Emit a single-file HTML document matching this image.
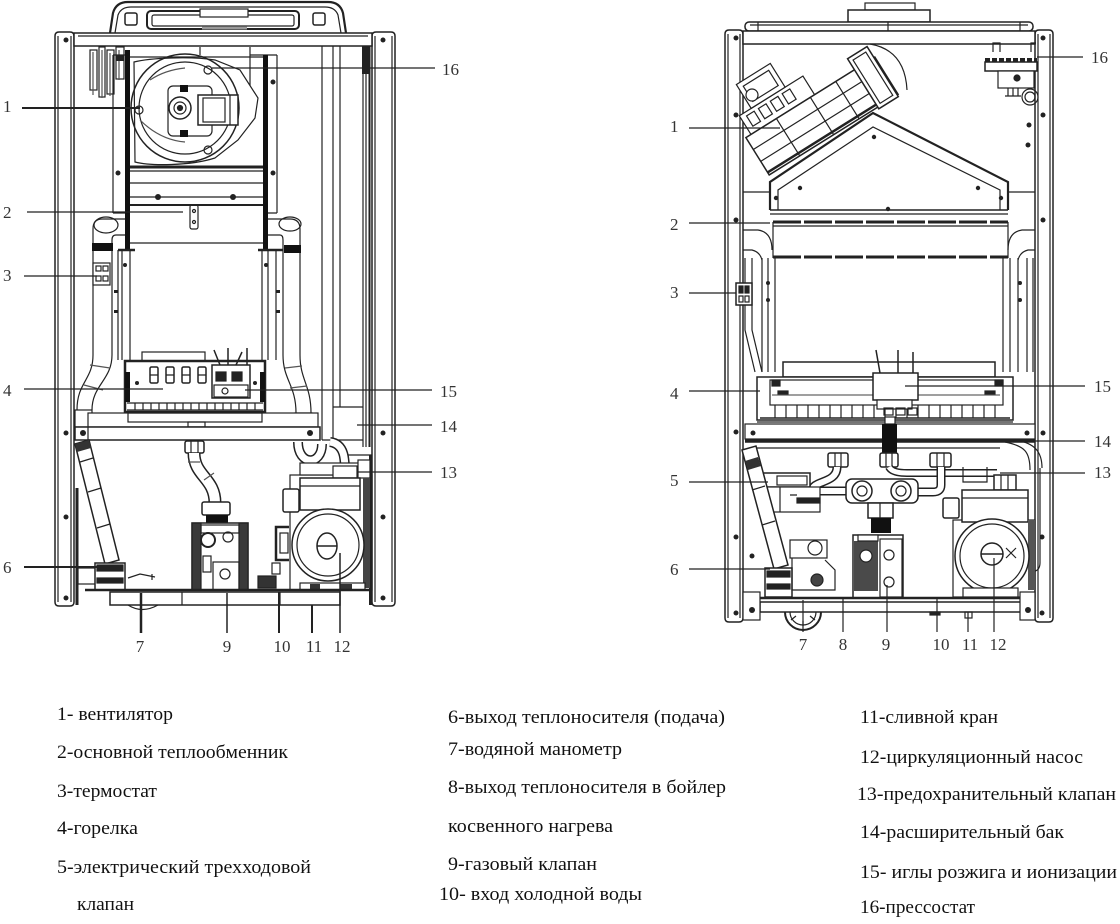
<!DOCTYPE html>
<html><head><meta charset="utf-8"><style>
html,body{margin:0;padding:0;background:#fff;}
svg{display:block;}
</style></head><body>
<svg width="1120" height="924" viewBox="0 0 1120 924" xmlns="http://www.w3.org/2000/svg">
<rect width="1120" height="924" fill="#fff"/>

<!-- ================= LEFT DIAGRAM ================= -->
<g fill="none" stroke="#222" stroke-width="1.2">
  <!-- side panels -->
  <path d="M55,36 Q55,32 59,32 H70 Q74,32 74,36 V602 Q74,606 70,606 H59 Q55,606 55,602 Z" stroke-width="1.5"/>
  <path d="M58,36 V602 M71,36 V602"/>
  <path d="M372,36 Q372,32 376,32 H391 Q395,32 395,36 V602 Q395,606 391,606 H376 Q372,606 372,602 Z" stroke-width="1.5"/>
  <path d="M375,36 V602 M392,36 V602"/>

  <!-- top hood -->
  <path d="M110,33 L113,13 Q116,2 128,2 H328 Q340,2 343,13 L346,33" stroke-width="2.2"/>
  <path d="M115,33 L118,15 Q121,7 131,7 H325 Q335,7 338,15 L341,33"/>
  <rect x="125" y="13" width="12" height="12" rx="2" stroke-width="1.5"/>
  <rect x="313" y="13" width="12" height="12" rx="2" stroke-width="1.5"/>
  <rect x="147" y="11" width="152" height="18" rx="4" stroke-width="2"/>
  <rect x="152" y="15" width="142" height="11" rx="2"/>
  <rect x="200" y="9" width="48" height="8" fill="#fff"/>
  <line x1="202" y1="28" x2="247" y2="28" stroke="#999" stroke-width="3"/>

  <!-- top bar -->
  <rect x="74" y="33" width="298" height="13" stroke-width="1.5" fill="#fff"/>
  <line x1="78" y1="36" x2="368" y2="36"/>

  <!-- expansion tank region right -->
  <path d="M322,46 V440 M333,46 V440 M340,46 V407 M363,46 V447 M366,46 V447"/>
  <line x1="369.5" y1="46" x2="369.5" y2="447" stroke-width="2"/>
  <rect x="362" y="46" width="8" height="28" fill="#222" stroke="none"/>
  <path d="M333,407 H363 M322,440 H363"/>

  <!-- pressostat (16) left top -->
  <rect x="90" y="50" width="7" height="40"/>
  <rect x="99" y="47" width="6" height="50"/>
  <rect x="107" y="50" width="7" height="44"/>
  <rect x="116" y="47" width="8" height="32"/>
  <path d="M93,52 V95 M102,50 V98 M110,53 V96 M119,50 V80" stroke="#555"/>
  <rect x="116" y="55" width="8" height="6" fill="#222" stroke="none"/>

  <!-- inner panels -->
  <path d="M113,55 V213 M113,55 H125 M277,55 V213 M250,55 H277 M250,47 V112 M238,112 H250 M113,213 H125 M268,213 H277 M200,47 V55"/>
  <rect x="125" y="50" width="5" height="200" fill="#111" stroke="none"/>
  <rect x="263" y="55" width="5" height="195" fill="#111" stroke="none"/>
  <line x1="130" y1="57" x2="263" y2="57"/>

  <!-- fan -->
  <path d="M134,62 C150,58 190,56 215,60 L240,70 L258,98 L255,118 L238,140 L215,158 C190,166 150,166 135,162 Z" fill="#fff"/>
  <circle cx="185" cy="108" r="54" stroke-width="1.5"/>
  <circle cx="185" cy="108" r="46"/>
  <path d="M140,120 Q160,140 185,142 M150,80 Q165,70 185,68" stroke="#555"/>
  <rect x="168" y="86" width="44" height="50" rx="5" fill="#fff"/>
  <rect x="198" y="95" width="40" height="30" fill="#fff" stroke-width="1.5"/>
  <rect x="203" y="98" width="22" height="24"/>
  <line x1="230" y1="95" x2="230" y2="125"/>
  <circle cx="180" cy="108" r="11" fill="#fff" stroke-width="1.5"/>
  <circle cx="180" cy="108" r="6"/>
  <circle cx="180" cy="108" r="2.5" fill="#222"/>
  <rect x="180" y="85" width="8" height="7" fill="#111" stroke="none"/>
  <rect x="180" y="130" width="8" height="7" fill="#111" stroke="none"/>
  <circle cx="208" cy="70" r="4"/>
  <circle cx="208" cy="150" r="4"/>
  <circle cx="139" cy="110" r="4"/>

  <!-- below fan, heat exchanger -->
  <line x1="130" y1="167" x2="263" y2="167" stroke-width="3"/>
  <path d="M130,171 H263 M130,183 H263 M130,197 H263 M130,243 H263"/>
  <line x1="130" y1="205" x2="263" y2="205" stroke-width="2"/>
  <path d="M118,250 H135 M258,250 H283" stroke-width="2.5"/>
  <rect x="190" y="205" width="8" height="24" rx="2"/>
  <circle cx="194" cy="211" r="1.5"/>
  <circle cx="194" cy="222" r="1.5"/>

  <!-- upper pipes -->
  <ellipse cx="106" cy="225" rx="12" ry="8" fill="#fff"/>
  <path d="M125,219 H102 Q93,219 93,229 V355 M125,235 H116 Q112,235 112,240 V355"/>
  <rect x="92" y="243" width="21" height="8" fill="#111" stroke="none"/>
  <rect x="93" y="263" width="17" height="22" fill="#fff"/>
  <rect x="96" y="266" width="5" height="5"/><rect x="103" y="266" width="5" height="5"/>
  <rect x="96" y="276" width="5" height="5"/><rect x="103" y="276" width="5" height="5"/>
  <ellipse cx="290" cy="224" rx="11" ry="7" fill="#fff"/>
  <path d="M268,219 H290 Q300,219 300,229 V355 M268,235 H280 Q283,235 283,240 V355"/>
  <rect x="284" y="245" width="17" height="8" fill="#111" stroke="none"/>

  <!-- columns -->
  <path d="M118,250 V360 M122,250 V360 M130,250 V360 M262,250 V360 M268,250 V360 M276,250 V360"/>
  <rect x="114" y="290" width="4" height="3" fill="#222" stroke="none"/>
  <rect x="114" y="310" width="4" height="3" fill="#222" stroke="none"/>
  <rect x="276" y="290" width="4" height="3" fill="#222" stroke="none"/>
  <rect x="276" y="310" width="4" height="3" fill="#222" stroke="none"/>

  <!-- lower pipes -->
  <path d="M93,355 C93,380 77,382 77,410 M112,355 C112,380 92,385 92,410"/>
  <path d="M90,365 L110,368 M84,385 L103,390" stroke="#555"/>
  <path d="M283,355 C283,380 296,385 296,413 M300,355 C300,380 311,385 311,413"/>
  <path d="M285,368 L302,366 M290,388 L307,386" stroke="#555"/>
  <rect x="75" y="410" width="17" height="17" fill="#fff"/>
  <rect x="295" y="413" width="17" height="14" fill="#fff"/>

  <!-- burner -->
  <rect x="142" y="352" width="63" height="10" fill="#fff"/>
  <rect x="125" y="361" width="140" height="51" stroke-width="2.5" fill="#fff"/>
  <path d="M127,403 H263 M127,410 H263"/>
  <path d="M135,403V410M143,403V410M151,403V410M159,403V410M167,403V410M175,403V410M183,403V410M191,403V410M199,403V410M207,403V410M215,403V410M223,403V410M231,403V410M239,403V410M247,403V410M255,403V410"/>
  <rect x="150" y="367" width="8" height="16" rx="1.5" stroke-width="1.5"/>
  <rect x="166" y="367" width="8" height="16" rx="1.5" stroke-width="1.5"/>
  <rect x="182" y="367" width="8" height="16" rx="1.5" stroke-width="1.5"/>
  <rect x="198" y="367" width="8" height="16" rx="1.5" stroke-width="1.5"/>
  <path d="M150,375 H158 M166,375 H174 M182,375 H190 M198,375 H206"/>
  <rect x="212" y="365" width="38" height="33" fill="#fff" stroke-width="1.5"/>
  <rect x="216" y="372" width="10" height="9" fill="#222"/>
  <rect x="232" y="372" width="10" height="9" fill="#222"/>
  <rect x="214" y="385" width="34" height="12"/>
  <circle cx="225" cy="391" r="3"/>
  <path d="M220,365 L214,350 M228,365 V348 M247,365 V348 M236,365 L242,352" stroke-width="1.5"/>
  <rect x="125" y="372" width="5" height="30" fill="#111" stroke="none"/>
  <rect x="260" y="372" width="5" height="30" fill="#111" stroke="none"/>

  <!-- under burner & crossbar -->
  <rect x="88" y="413" width="230" height="14" fill="#fff"/>
  <rect x="128" y="413" width="134" height="9"/>
  <rect x="188" y="422" width="17" height="5"/>
  <rect x="75" y="427" width="245" height="13" stroke-width="1.5" fill="#fff"/>
  <line x1="88" y1="427" x2="88" y2="440"/>

  <!-- lower compartment walls -->
  <line x1="77" y1="488" x2="77" y2="605" stroke-width="3"/>
  <line x1="370.5" y1="455" x2="370.5" y2="605" stroke-width="3"/>
  <line x1="345" y1="455" x2="372" y2="455"/>

  <!-- diagonal pipe -->
  <polygon points="75,444 89,440 119,560 105,564" fill="#fff" stroke-width="1.5"/>
  <polygon points="75,444 89,440 91,448 77,452" fill="#333" stroke="none"/>
  <path d="M80,462 L93,458 M88,492 L101,488 M97,528 L110,524"/>
  <rect x="78" y="568" width="18" height="16" fill="#fff"/>
  <rect x="95" y="563" width="30" height="27" fill="#fff" stroke-width="1.5"/>
  <rect x="97" y="565" width="26" height="6" fill="#222"/>
  <rect x="97" y="578" width="26" height="5" fill="#222"/>
  <path d="M128,578 L140,574 L155,577 M152,574 V580"/>

  <!-- gas pipe and valve -->
  <rect x="185" y="441" width="19" height="12" rx="2" fill="#fff" stroke-width="1.5"/>
  <path d="M191,441 V453 M198,441 V453"/>
  <path d="M194,453 C194,476 215,478 215,503" stroke="#222" stroke-width="13"/>
  <path d="M194,453 C194,476 215,478 215,503" stroke="#fff" stroke-width="10"/>
  <path d="M188,462 L200,462 M204,480 L214,473" stroke="#555"/>
  <rect x="202" y="502" width="28" height="13" rx="2" fill="#fff" stroke-width="1.5"/>
  <rect x="206" y="515" width="22" height="8" fill="#111" stroke="none"/>
  <rect x="192" y="523" width="56" height="67" fill="#fff" stroke-width="1.5"/>
  <rect x="192" y="523" width="9" height="67" fill="#3a3a3a"/>
  <rect x="239" y="523" width="9" height="67" fill="#3a3a3a"/>
  <rect x="201" y="525" width="38" height="8"/>
  <circle cx="208" cy="540" r="7" stroke-width="2"/>
  <circle cx="228" cy="537" r="5"/>
  <rect x="203" y="556" width="8" height="16"/>
  <rect x="213" y="562" width="26" height="28"/>
  <circle cx="225" cy="574" r="5"/>

  <!-- item 10 -->
  <path d="M289,527 H276 V560 H289" stroke-width="2.5"/>
  <rect x="280" y="533" width="8" height="20"/>
  <rect x="258" y="576" width="18" height="12" fill="#333"/>
  <rect x="272" y="563" width="8" height="11"/>

  <!-- pump -->
  <rect x="290" y="475" width="82" height="115"/>
  <path d="M298,442 C298,466 322,466 322,444" stroke="#222" stroke-width="10"/>
  <path d="M298,442 C298,466 322,466 322,444" stroke="#fff" stroke-width="7"/>
  <path d="M330,442 C346,444 345,462 345,476" stroke="#222" stroke-width="10"/>
  <path d="M330,442 C346,444 345,462 345,476" stroke="#fff" stroke-width="7"/>
  <rect x="300" y="463" width="70" height="12" fill="#fff"/>
  <rect x="333" y="466" width="24" height="12" fill="#fff"/>
  <rect x="358" y="460" width="12" height="18" fill="#fff"/>
  <rect x="300" y="478" width="60" height="32" fill="#fff" stroke-width="1.5"/>
  <line x1="300" y1="486" x2="360" y2="486"/>
  <rect x="283" y="489" width="16" height="23" rx="2" fill="#fff" stroke-width="1.5"/>
  <rect x="363" y="478" width="7" height="110" fill="#444" stroke="none"/>
  <circle cx="328" cy="545" r="36" fill="#fff" stroke-width="1.5"/>
  <circle cx="328" cy="545" r="31"/>
  <ellipse cx="327" cy="546" rx="10" ry="13" stroke-width="1.5"/>
  <line x1="317" y1="546" x2="337" y2="546" stroke-width="1.5"/>
  <rect x="300" y="583" width="65" height="7" fill="#fff"/>
  <rect x="310" y="584" width="10" height="5" fill="#333" stroke="none"/>
  <rect x="340" y="584" width="12" height="5" fill="#333" stroke="none"/>

  <!-- bottom -->
  <line x1="85" y1="590" x2="372" y2="590" stroke-width="2.5"/>
  <rect x="110" y="592" width="230" height="13" fill="#fff" stroke-width="1.5"/>
  <path d="M182,592 V605 M280,592 V605"/>
  <path d="M128,605 Q142,614 158,605"/>
</g>
<g fill="#222">
  <circle cx="66" cy="40" r="2.5"/><circle cx="383" cy="40" r="2.5"/>
  <circle cx="66" cy="433" r="2.5"/><circle cx="383" cy="433" r="2.5"/>
  <circle cx="66" cy="517" r="2.5"/><circle cx="383" cy="517" r="2.5"/>
  <circle cx="66" cy="598" r="2.5"/><circle cx="383" cy="598" r="2.5"/>
  <circle cx="83" cy="433" r="3"/><circle cx="310" cy="433" r="3"/>
  <circle cx="158" cy="197" r="3"/><circle cx="233" cy="197" r="3"/>
  <circle cx="118" cy="173" r="2.5"/><circle cx="273" cy="173" r="2.5"/>
  <circle cx="273" cy="82" r="2.5"/>
  <circle cx="125" cy="265" r="2"/><circle cx="266" cy="265" r="2"/>
  <circle cx="137" cy="383" r="2"/><circle cx="255" cy="383" r="2"/>
</g>

<!-- left labels -->
<g stroke="#222" fill="none">
  <line x1="22" y1="108" x2="140" y2="108" stroke-width="2"/>
  <line x1="27" y1="212" x2="183" y2="212" stroke-width="1.2"/>
  <line x1="24" y1="276" x2="97" y2="276" stroke-width="1.2"/>
  <line x1="24" y1="389" x2="163" y2="389" stroke-width="1.2"/>
  <line x1="24" y1="567" x2="98" y2="567" stroke-width="2"/>
  <line x1="212" y1="68" x2="435" y2="68" stroke-width="1.2"/>
  <line x1="245" y1="390" x2="432" y2="390" stroke-width="1.2"/>
  <line x1="357" y1="425" x2="432" y2="425" stroke-width="1.2"/>
  <line x1="357" y1="472" x2="432" y2="472" stroke-width="1.2"/>
  <line x1="141" y1="593" x2="141" y2="633" stroke-width="2.5"/>
  <line x1="227" y1="593" x2="227" y2="633" stroke-width="1.5"/>
  <line x1="279" y1="592" x2="279" y2="633" stroke-width="2"/>
  <line x1="312" y1="605" x2="312" y2="633" stroke-width="2"/>
  <line x1="340" y1="553" x2="340" y2="633" stroke-width="1.5"/>
</g>
<g font-family="Liberation Serif, serif" font-size="17" fill="#333">
  <text x="3" y="112">1</text>
  <text x="3" y="218">2</text>
  <text x="3" y="281">3</text>
  <text x="3" y="396">4</text>
  <text x="3" y="573">6</text>
  <text x="442" y="75">16</text>
  <text x="440" y="397">15</text>
  <text x="440" y="432">14</text>
  <text x="440" y="478">13</text>
  <text x="140" y="652" text-anchor="middle">7</text>
  <text x="227" y="652" text-anchor="middle">9</text>
  <text x="282" y="652" text-anchor="middle">10</text>
  <text x="314" y="652" text-anchor="middle">11</text>
  <text x="342" y="652" text-anchor="middle">12</text>
</g>

<!-- ================= RIGHT DIAGRAM ================= -->
<g fill="none" stroke="#222" stroke-width="1.2">
  <!-- panels -->
  <path d="M725,34 Q725,30 729,30 H739 Q743,30 743,34 V618 Q743,622 739,622 H729 Q725,622 725,618 Z" stroke-width="1.5"/>
  <path d="M728,34 V618 M740,34 V618"/>
  <path d="M1035,34 Q1035,30 1039,30 H1049 Q1053,30 1053,34 V618 Q1053,622 1049,622 H1039 Q1035,622 1035,618 Z" stroke-width="1.5"/>
  <path d="M1038,34 V618 M1050,34 V618"/>

  <!-- top -->
  <rect x="865" y="3" width="50" height="7"/>
  <rect x="848" y="10" width="82" height="12" stroke-width="1.5" fill="#fff"/>
  <rect x="745" y="22" width="288" height="9" rx="4" stroke-width="1.5" fill="#fff"/>
  <path d="M750,25 H1028 M888,22 V31 M758,22 V31 M1020,22 V31"/>
  <rect x="743" y="31" width="292" height="13" stroke-width="1.5" fill="#fff"/>

  <!-- pressostat 16 -->
  <path d="M993,52 V43 H1000 V52 M1031,52 V43 H1036"/>
  <line x1="985" y1="60" x2="1037" y2="60" stroke-width="4" stroke-dasharray="5 2"/>
  <rect x="985" y="62" width="52" height="9" fill="#fff" stroke-width="1.5"/>
  <rect x="998" y="71" width="36" height="17" fill="#fff"/>
  <circle cx="1017" cy="78" r="3" fill="#222"/>
  <path d="M1008,88 V96 M1013,88 V96 M1018,88 V96 M1005,96 H1021"/>
  <circle cx="1030" cy="97" r="8"/>
  <circle cx="1030" cy="97" r="5"/>

  <!-- fan arc -->
  <path d="M870,44 Q905,50 907,90"/>

  <!-- hood -->
  <path d="M770,210 V182 L873,113 L1008,182 V210" stroke-width="2.2" fill="#fff"/>
  <path d="M778,210 V190 L873,127 L1000,190 V210"/>
  <path d="M770,210 H1008" stroke-width="1.5"/>
  <path d="M770,214 H1008"/>
  <path d="M743,192 H770 M1008,192 H1035"/>

  <!-- fan assembly (rotated) -->
  <g transform="translate(822,116) rotate(-32)">
    <rect x="-70" y="-44" width="75" height="22" fill="#fff"/>
    <rect x="-64" y="-40" width="9" height="12"/>
    <rect x="-50" y="-40" width="9" height="12"/>
    <rect x="-36" y="-40" width="9" height="12"/>
    <rect x="-22" y="-40" width="9" height="12"/>
    <rect x="-56" y="-72" width="40" height="28" fill="#fff"/>
    <rect x="-51" y="-67" width="30" height="18"/>
    <rect x="-76" y="-22" width="152" height="44" fill="#fff" stroke-width="1.5"/>
    <path d="M-76,-8 H52 M-76,6 H52 M-40,-22 V22 M0,-22 V22 M30,-22 V22"/>
    <line x1="-76" y1="19" x2="76" y2="19" stroke-width="2.5"/>
    <rect x="52" y="-35" width="23" height="59" fill="#fff" stroke-width="1.5"/>
    <rect x="56" y="-31" width="15" height="51"/>
  </g>
  <circle cx="752" cy="95" r="6" fill="#fff"/>

  <!-- heat exchanger -->
  <line x1="773" y1="222" x2="1008" y2="222" stroke-width="3" stroke-dasharray="28 3"/>
  <path d="M773,226 H1008 M773,222 V258 M1008,222 V258"/>
  <line x1="773" y1="257" x2="1008" y2="257" stroke-width="3" stroke-dasharray="28 3"/>
  <path d="M743,230 H758 Q772,232 772,250 M743,250 H752 Q760,252 762,260"/>
  <path d="M1035,230 H1022 Q1008,232 1008,250 M1035,250 H1028 Q1020,252 1018,260"/>

  <!-- columns / pipes -->
  <path d="M745,258 V330 L755,372 M752,258 V330 L762,372"/>
  <path d="M762,258 V372 M768,258 V372 M775,258 V372"/>
  <path d="M1003,258 V372 M1010,258 V372 M1018,258 V372"/>
  <path d="M1027,258 V372 M1033,258 V372"/>
  <rect x="736" y="283" width="16" height="22" fill="#fff" stroke-width="1.5"/>
  <rect x="739" y="286" width="4" height="7" fill="#222"/><rect x="745" y="286" width="4" height="7" fill="#222"/>
  <rect x="739" y="296" width="4" height="6"/><rect x="745" y="296" width="4" height="6"/>

  <!-- burner -->
  <rect x="783" y="362" width="212" height="15" stroke-width="1.5" fill="#fff"/>
  <rect x="757" y="377" width="256" height="43" stroke-width="1.5" fill="#fff"/>
  <rect x="770" y="380" width="233" height="25"/>
  <line x1="772" y1="395" x2="1000" y2="395" stroke="#666"/>
  <path d="M775,405V418M786,405V418M797,405V418M808,405V418M819,405V418M830,405V418M841,405V418M852,405V418M863,405V418M874,405V418M885,405V418M896,405V418M907,405V418M918,405V418M929,405V418M940,405V418M951,405V418M962,405V418M973,405V418M984,405V418M995,405V418"/>
  <line x1="760" y1="418" x2="1010" y2="418" stroke-width="1.5"/>
  <rect x="873" y="373" width="45" height="27" fill="#fff" stroke-width="1.5"/>
  <rect x="877" y="400" width="35" height="9" fill="#fff"/>
  <path d="M880,373 L876,350 M898,373 V350 M913,373 V352" stroke-width="1.5"/>
  <rect x="884" y="408" width="9" height="7"/><rect x="896" y="408" width="9" height="7"/><rect x="908" y="408" width="9" height="7"/>
  <rect x="772" y="380" width="8" height="6" fill="#222"/>
  <rect x="995" y="380" width="8" height="6" fill="#222"/>
  <rect x="778" y="391" width="10" height="3" fill="#222"/>
  <rect x="985" y="391" width="10" height="3" fill="#222"/>

  <!-- crossbar -->
  <line x1="757" y1="422" x2="1013" y2="422"/>
  <rect x="745" y="424" width="290" height="15" stroke-width="1.2" fill="#fff"/>
  <line x1="745" y1="441" x2="1035" y2="441" stroke-width="3.5"/>
  <line x1="752" y1="448" x2="1000" y2="448"/>
  <rect x="885" y="417" width="10" height="7" fill="#fff"/>
  <rect x="882" y="424" width="15" height="34" fill="#111" stroke="none"/>

  <!-- nuts -->
  <rect x="828" y="453" width="20" height="14" rx="2" fill="#fff" stroke-width="1.5"/>
  <rect x="880" y="453" width="18" height="14" rx="2" fill="#fff" stroke-width="1.5"/>
  <rect x="930" y="453" width="21" height="14" rx="2" fill="#fff" stroke-width="1.5"/>
  <path d="M835,453 V467 M841,453 V467 M886,453 V467 M892,453 V467 M937,453 V467 M944,453 V467"/>

  <!-- pipes -->
  <path d="M837,467 C837,484 812,480 812,491 L850,491" stroke="#222" stroke-width="9"/>
  <path d="M837,467 C837,484 812,480 812,491 L850,491" stroke="#fff" stroke-width="6"/>
  <path d="M889,467 Q892,473 907,473 L997,473" stroke="#222" stroke-width="8"/>
  <path d="M889,467 Q892,473 907,473 L997,473" stroke="#fff" stroke-width="5"/>
  <path d="M941,467 V485 Q941,492 933,492 L911,492" stroke="#222" stroke-width="9"/>
  <path d="M941,467 V485 Q941,492 933,492 L911,492" stroke="#fff" stroke-width="6"/>
  <rect x="846" y="479" width="72" height="24" rx="6" fill="#fff" stroke-width="1.5"/>
  <circle cx="862" cy="491" r="10" fill="#fff" stroke-width="1.5"/>
  <circle cx="862" cy="491" r="5"/>
  <circle cx="901" cy="491" r="10" fill="#fff" stroke-width="1.5"/>
  <circle cx="901" cy="491" r="5"/>
  <rect x="868" y="503" width="25" height="15" fill="#fff" stroke-width="1.5"/>
  <line x1="880" y1="503" x2="880" y2="518"/>
  <rect x="871" y="518" width="20" height="15" fill="#111" stroke="none"/>
  <path d="M963,467 V482 H987 V467" />

  <!-- diverter valve 5 -->
  <rect x="763" y="473" width="47" height="14" fill="#fff" stroke-width="1.5"/>
  <rect x="777" y="476" width="30" height="9"/>
  <rect x="767" y="487" width="53" height="25" fill="#fff"/>
  <rect x="797" y="498" width="23" height="5" fill="#222"/>
  <path d="M780,487 V512 M790,495 H797"/>

  <!-- diagonal pipe -->
  <polygon points="742,450 756,446 788,565 774,569" fill="#fff" stroke-width="1.5"/>
  <polygon points="745,461 758,457 761,466 748,470" fill="#333" stroke="none"/>
  <path d="M752,490 L765,486 M762,525 L775,521"/>
  <rect x="765" y="568" width="27" height="29" fill="#fff" stroke-width="1.5"/>
  <rect x="767" y="571" width="23" height="6" fill="#222"/>
  <rect x="767" y="584" width="23" height="5" fill="#222"/>

  <!-- block 8 -->
  <rect x="790" y="540" width="37" height="18" fill="#fff"/>
  <circle cx="815" cy="548" r="7"/>
  <path d="M792,558 V590 H835 V570 L825,560"/>
  <circle cx="817" cy="580" r="6" fill="#444"/>

  <!-- gas valve -->
  <rect x="853" y="535" width="50" height="63" fill="#fff" stroke-width="1.5"/>
  <rect x="854" y="541" width="24" height="50" fill="#4a4a4a" stroke="none"/>
  <circle cx="866" cy="556" r="6" fill="#fff"/>
  <rect x="880" y="539" width="22" height="58"/>
  <circle cx="889" cy="555" r="5"/>
  <circle cx="889" cy="582" r="5"/>
  <rect x="858" y="535" width="20" height="6" fill="#fff"/>

  <!-- pump -->
  <path d="M1005,442 C1025,446 1030,452 1030,470 M1015,440 C1035,443 1042,452 1042,468"/>
  <path d="M1040,468 V563 Q1040,572 1030,572"/>
  <rect x="953" y="520" width="82" height="77"/>
  <rect x="994" y="475" width="22" height="15" fill="#fff" stroke-width="1.5"/>
  <path d="M1001,475 V490 M1008,475 V490"/>
  <rect x="962" y="490" width="66" height="32" fill="#fff" stroke-width="1.5"/>
  <line x1="962" y1="498" x2="1028" y2="498"/>
  <rect x="943" y="498" width="16" height="20" rx="2" fill="#fff" stroke-width="1.5"/>
  <rect x="1028" y="520" width="7" height="70" fill="#555" stroke="none"/>
  <circle cx="992" cy="556" r="37" fill="#fff" stroke-width="1.5"/>
  <circle cx="992" cy="556" r="32"/>
  <circle cx="992" cy="554" r="11" stroke-width="1.5"/>
  <line x1="981" y1="554" x2="1003" y2="554" stroke-width="1.5"/>
  <path d="M1006,548 L1016,558 M1016,548 L1006,558"/>
  <rect x="963" y="588" width="55" height="9" fill="#fff"/>

  <!-- bottom -->
  <line x1="745" y1="598" x2="1035" y2="598" stroke-width="2.5"/>
  <rect x="760" y="602" width="268" height="10" fill="#fff" stroke-width="1.5"/>
  <rect x="743" y="592" width="17" height="28" fill="#fff"/>
  <rect x="1020" y="592" width="15" height="28" fill="#fff"/>
  <path d="M785,612 A18,18 0 0 0 821,612" stroke-width="2"/>
  <path d="M790,612 A13,13 0 0 0 816,612"/>
  <path d="M791,620 L796,616 M815,620 L810,616 M803,626 V621"/>
  <rect x="965" y="612" width="7" height="6"/>
  <rect x="930" y="612" width="10" height="3" fill="#222"/>
</g>
<g fill="#222">
  <circle cx="736" cy="38" r="2.5"/><circle cx="1043" cy="38" r="2.5"/>
  <circle cx="736" cy="115" r="2.5"/><circle cx="1043" cy="115" r="2.5"/>
  <circle cx="736" cy="220" r="2.5"/><circle cx="1043" cy="220" r="2.5"/>
  <circle cx="736" cy="432" r="2.5"/><circle cx="1043" cy="433" r="2.5"/>
  <circle cx="736" cy="537" r="2.5"/><circle cx="1042" cy="537" r="2.5"/>
  <circle cx="736" cy="613" r="2.5"/><circle cx="1042" cy="613" r="2.5"/>
  <circle cx="752" cy="610" r="3"/><circle cx="1028" cy="610" r="3"/>
  <circle cx="753" cy="433" r="2.5"/><circle cx="1027" cy="433" r="2.5"/>
  <circle cx="1029" cy="125" r="2.5"/><circle cx="1028" cy="145" r="2.5"/>
  <circle cx="800" cy="188" r="2.2"/><circle cx="874" cy="137" r="2.2"/>
  <circle cx="978" cy="188" r="2.2"/><circle cx="776" cy="198" r="2.2"/>
  <circle cx="1001" cy="198" r="2.2"/><circle cx="888" cy="209" r="2.2"/>
  <circle cx="768" cy="283" r="2"/><circle cx="768" cy="300" r="2"/>
  <circle cx="1020" cy="283" r="2"/><circle cx="1020" cy="300" r="2"/>
  <circle cx="752" cy="556" r="2.5"/>
</g>

<!-- right labels -->
<g stroke="#222" fill="none" stroke-width="1.2">
  <line x1="689" y1="128" x2="780" y2="128"/>
  <line x1="689" y1="223" x2="770" y2="223"/>
  <line x1="689" y1="293" x2="736" y2="293"/>
  <line x1="689" y1="391" x2="760" y2="391"/>
  <line x1="689" y1="482" x2="768" y2="482"/>
  <line x1="689" y1="569" x2="770" y2="569"/>
  <line x1="1037" y1="57" x2="1083" y2="57"/>
  <line x1="905" y1="386" x2="1085" y2="386"/>
  <line x1="1013" y1="441" x2="1085" y2="441"/>
  <line x1="1000" y1="473" x2="1085" y2="473"/>
  <line x1="803" y1="600" x2="803" y2="632"/>
  <line x1="843" y1="598" x2="843" y2="632"/>
  <line x1="887" y1="585" x2="887" y2="632"/>
  <line x1="937" y1="598" x2="937" y2="632"/>
  <line x1="968" y1="612" x2="968" y2="632"/>
  <line x1="994" y1="558" x2="994" y2="632"/>
</g>
<g font-family="Liberation Serif, serif" font-size="17" fill="#333">
  <text x="670" y="132">1</text>
  <text x="670" y="230">2</text>
  <text x="670" y="298">3</text>
  <text x="670" y="399">4</text>
  <text x="670" y="486">5</text>
  <text x="670" y="575">6</text>
  <text x="1091" y="63">16</text>
  <text x="1094" y="392">15</text>
  <text x="1094" y="447">14</text>
  <text x="1094" y="478">13</text>
  <text x="803" y="650" text-anchor="middle">7</text>
  <text x="843" y="650" text-anchor="middle">8</text>
  <text x="886" y="650" text-anchor="middle">9</text>
  <text x="941" y="650" text-anchor="middle">10</text>
  <text x="970" y="650" text-anchor="middle">11</text>
  <text x="998" y="650" text-anchor="middle">12</text>
</g>

<!-- ================= LEGEND ================= -->
<g font-family="Liberation Serif, serif" font-size="19" fill="#111" lengthAdjust="spacingAndGlyphs">
  <text x="57" y="720" textLength="116" lengthAdjust="spacingAndGlyphs">1- вентилятор</text>
  <text x="57" y="758" textLength="231" lengthAdjust="spacingAndGlyphs">2-основной теплообменник</text>
  <text x="57" y="797" textLength="100" lengthAdjust="spacingAndGlyphs">3-термостат</text>
  <text x="57" y="834" textLength="81" lengthAdjust="spacingAndGlyphs">4-горелка</text>
  <text x="57" y="873" textLength="254" lengthAdjust="spacingAndGlyphs">5-электрический трехходовой</text>
  <text x="77" y="910" textLength="57" lengthAdjust="spacingAndGlyphs">клапан</text>

  <text x="448" y="723" textLength="277" lengthAdjust="spacingAndGlyphs">6-выход теплоносителя (подача)</text>
  <text x="448" y="755" textLength="174" lengthAdjust="spacingAndGlyphs">7-водяной манометр</text>
  <text x="448" y="793" textLength="278" lengthAdjust="spacingAndGlyphs">8-выход теплоносителя в бойлер</text>
  <text x="448" y="832" textLength="165" lengthAdjust="spacingAndGlyphs">косвенного нагрева</text>
  <text x="448" y="870" textLength="149" lengthAdjust="spacingAndGlyphs">9-газовый клапан</text>
  <text x="439" y="900" textLength="203" lengthAdjust="spacingAndGlyphs">10- вход холодной воды</text>

  <text x="860" y="723" textLength="138" lengthAdjust="spacingAndGlyphs">11-сливной кран</text>
  <text x="860" y="763" textLength="223" lengthAdjust="spacingAndGlyphs">12-циркуляционный насос</text>
  <text x="857" y="800" textLength="259" lengthAdjust="spacingAndGlyphs">13-предохранительный клапан</text>
  <text x="860" y="838" textLength="204" lengthAdjust="spacingAndGlyphs">14-расширительный бак</text>
  <text x="860" y="878" textLength="257" lengthAdjust="spacingAndGlyphs">15- иглы розжига и ионизации</text>
  <text x="860" y="913" textLength="115" lengthAdjust="spacingAndGlyphs">16-прессостат</text>
</g>
</svg>
</body></html>
